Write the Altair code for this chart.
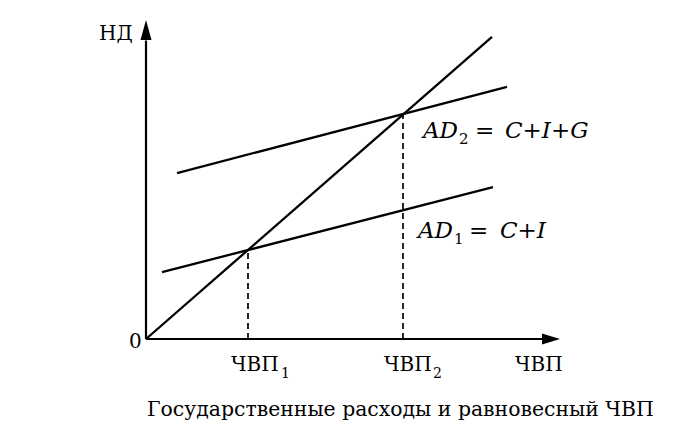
import altair as alt
import pandas as pd

# ---------------- data ----------------
gnp_levels = [102, 257]          # ЧВП1, ЧВП2 (equilibrium points)
line45_x = [0, 346]
line45_y = [0, 346]
ad1_x = [16, 347]
ad1_y = [76.6, 174.0]
ad2_x = [31, 361]
ad2_y = [190.1, 288.7]
axis_x_end = 396                 # end of the horizontal axis shaft
axis_y_end = 342                 # end of the vertical axis shaft
arrow_x_pos = 405
arrow_y_pos = 354

# ---------------- layout ----------------
W, H = 666, 421
OX, OY = 138, 331                # origin inside the chart (px)
KY = 0.873                       # vertical px per unit
xs = alt.Scale(domain=[-OX, W - OX], nice=False, zero=False)
ys = alt.Scale(domain=[(OY - H) / KY, OY / KY], nice=False, zero=False)
SERIF = "DejaVu Serif"


def X(px):
    return px - 146


def Y(py):
    return (339 - py) / KY


def seg(xv, yv):
    return pd.DataFrame({"x": xv, "y": yv})


def line_layer(df, width=2.0, dash=None):
    kw = dict(color="black", strokeWidth=width, clip=False)
    if dash:
        kw["strokeDash"] = dash
    return alt.Chart(df).mark_line(**kw).encode(
        x=alt.X("x:Q", scale=xs, axis=None),
        y=alt.Y("y:Q", scale=ys, axis=None),
    )


layers = []
# axes
layers.append(line_layer(seg([0, axis_x_end], [0, 0]), 2.2))
layers.append(line_layer(seg([0, 0], [0, axis_y_end]), 2.2))
# arrow heads
layers.append(
    alt.Chart(pd.DataFrame({"x": [arrow_x_pos], "y": [0]}))
    .mark_point(shape="M1,0 L-1,-0.6 L-1,0.6 Z", size=324, filled=True,
                color="black", opacity=1, strokeWidth=0)
    .encode(x=alt.X("x:Q", scale=xs, axis=None), y=alt.Y("y:Q", scale=ys, axis=None))
)
layers.append(
    alt.Chart(pd.DataFrame({"x": [0], "y": [arrow_y_pos]}))
    .mark_point(shape="M0,-1 L0.55,1 L-0.55,1 Z", size=400, filled=True,
                color="black", opacity=1, strokeWidth=0)
    .encode(x=alt.X("x:Q", scale=xs, axis=None), y=alt.Y("y:Q", scale=ys, axis=None))
)
# 45 degree line and AD lines
layers.append(line_layer(seg(line45_x, line45_y), 2.3))
layers.append(line_layer(seg(ad1_x, ad1_y), 2.3))
layers.append(line_layer(seg(ad2_x, ad2_y), 2.3))
# dashed verticals
for g in gnp_levels:
    layers.append(line_layer(seg([g, g], [0, g]), 1.7, [6, 4]))

# texts: (text, px, baseline py, size, style)
texts = [
    ("НД", 99, 40, 20, "normal"),
    ("0", 129, 348, 20, "normal"),
    ("ЧВП", 231, 371, 20, "normal"),
    ("1", 281, 378, 14, "normal"),
    ("ЧВП", 384, 371, 20, "normal"),
    ("2", 433, 378, 14, "normal"),
    ("ЧВП", 515, 371, 20, "normal"),
    ("AD", 423, 138, 23, "italic"),
    ("2", 459, 144, 15, "normal"),
    ("=", 475, 138, 23, "normal"),
    ("C+I+G", 505, 138, 23, "italic"),
    ("AD", 418, 238, 23, "italic"),
    ("1", 454, 244, 15, "normal"),
    ("=", 469, 238, 23, "normal"),
    ("C+I", 500, 238, 23, "italic"),
    ("Государственные расходы и равновесный ЧВП", 147, 416, 20.4, "normal"),
]
for t, px, py, fs, st in texts:
    layers.append(
        alt.Chart(pd.DataFrame({"x": [X(px)], "y": [Y(py)], "t": [t]}))
        .mark_text(align="left", baseline="alphabetic", font=SERIF, fontSize=fs,
                   fontStyle=st, color="black", clip=False)
        .encode(x=alt.X("x:Q", scale=xs, axis=None),
                y=alt.Y("y:Q", scale=ys, axis=None), text="t:N")
    )

chart = (
    alt.layer(*layers)
    .properties(width=W, height=H, autosize=alt.AutoSizeParams(type="none"),
                padding=0, background="white")
    .configure_view(stroke=None)
)
chart.save("out.html", embed_options={"renderer": "svg", "actions": False})
